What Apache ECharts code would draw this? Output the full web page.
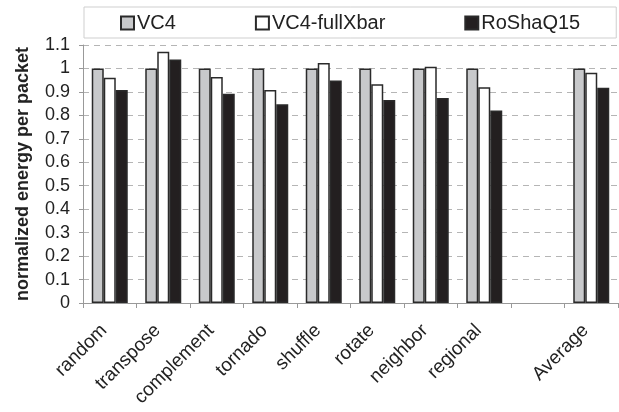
<!DOCTYPE html>
<html>
<head>
<meta charset="utf-8">
<script src="https://cdn.jsdelivr.net/npm/echarts@6/dist/echarts.min.js"></script>
<style>
  html, body { margin: 0; padding: 0; background: #fff; }
  #chart { width: 619px; height: 412px; }
</style>
</head>
<body>
<div id="chart"></div>
<script>
const categories = ['random', 'transpose', 'complement', 'tornado', 'shuffle', 'rotate', 'neighbor', 'regional', '', 'Average']
const vc4 = [1, 1, 1, 1, 1, 1, 1, 1, null, 1]
const vc4FullXbar = [0.96, 1.071, 0.964, 0.908, 1.023, 0.933, 1.007, 0.92, null, 0.982]
const roShaQ15 = [0.908, 1.038, 0.892, 0.847, 0.949, 0.865, 0.874, 0.821, null, 0.918]
const yTicks = [0, 0.1, 0.2, 0.3, 0.4, 0.5, 0.6, 0.7, 0.8, 0.9, 1, 1.1]

const FONT = '"Liberation Sans", Arial, sans-serif'
const EDGE = '#2a2a2a'

const chart = echarts.init(document.getElementById('chart'), null, { renderer: 'canvas' })

function bar(name, data, color) {
  return {
    name, type: 'bar', data, barWidth: 12, barGap: '0%',
    itemStyle: { color, borderColor: EDGE, borderWidth: 1.5 },
  }
}

chart.setOption({
  animation: false,
  textStyle: { fontFamily: FONT },
  legend: {
    left: 84, top: 7, icon: 'rect',
    padding: [6, 36, 5, 36],
    itemGap: 79, itemWidth: 13, itemHeight: 13,
    borderColor: '#cfcfcf', borderWidth: 1,
    textStyle: { fontSize: 20, color: '#222', fontFamily: FONT, padding: [0, 0, 0, -2] },
  },
  grid: { left: 83, right: 1, top: 45, bottom: 109, containLabel: false },
  xAxis: {
    type: 'category', data: categories,
    axisLine: { lineStyle: { color: '#999' } },
    axisTick: { show: true, length: 5, lineStyle: { color: '#999' } },
    axisLabel: { rotate: 45, fontSize: 19, color: '#222', margin: 19, interval: 0, padding: [0, 8, 0, 0] },
  },
  yAxis: {
    type: 'value', min: 0, max: 1.1, interval: 0.1,
    name: 'normalized energy per packet',
    nameLocation: 'middle', nameRotate: 90, nameGap: 51,
    nameTextStyle: { fontSize: 18, fontWeight: 'bold', color: '#222', fontFamily: FONT },
    axisLine: { show: true, lineStyle: { color: '#999' } },
    axisTick: { show: true, length: 4, lineStyle: { color: '#999' } },
    axisLabel: {
      fontSize: 18, color: '#222', margin: 13,
      formatter: (v) => {
        const t = yTicks.find((x) => Math.abs(x - v) < 1e-6)
        return t === undefined ? '' : String(t)
      },
    },
    splitLine: { lineStyle: { color: '#b5b5b5', type: [6, 5] } },
  },
  series: [
    bar('VC4', vc4, '#c8c9cb'),
    bar('VC4-fullXbar', vc4FullXbar, '#ffffff'),
    bar('RoShaQ15', roShaQ15, '#231f20'),
  ],
})
</script>
</body>
</html>
